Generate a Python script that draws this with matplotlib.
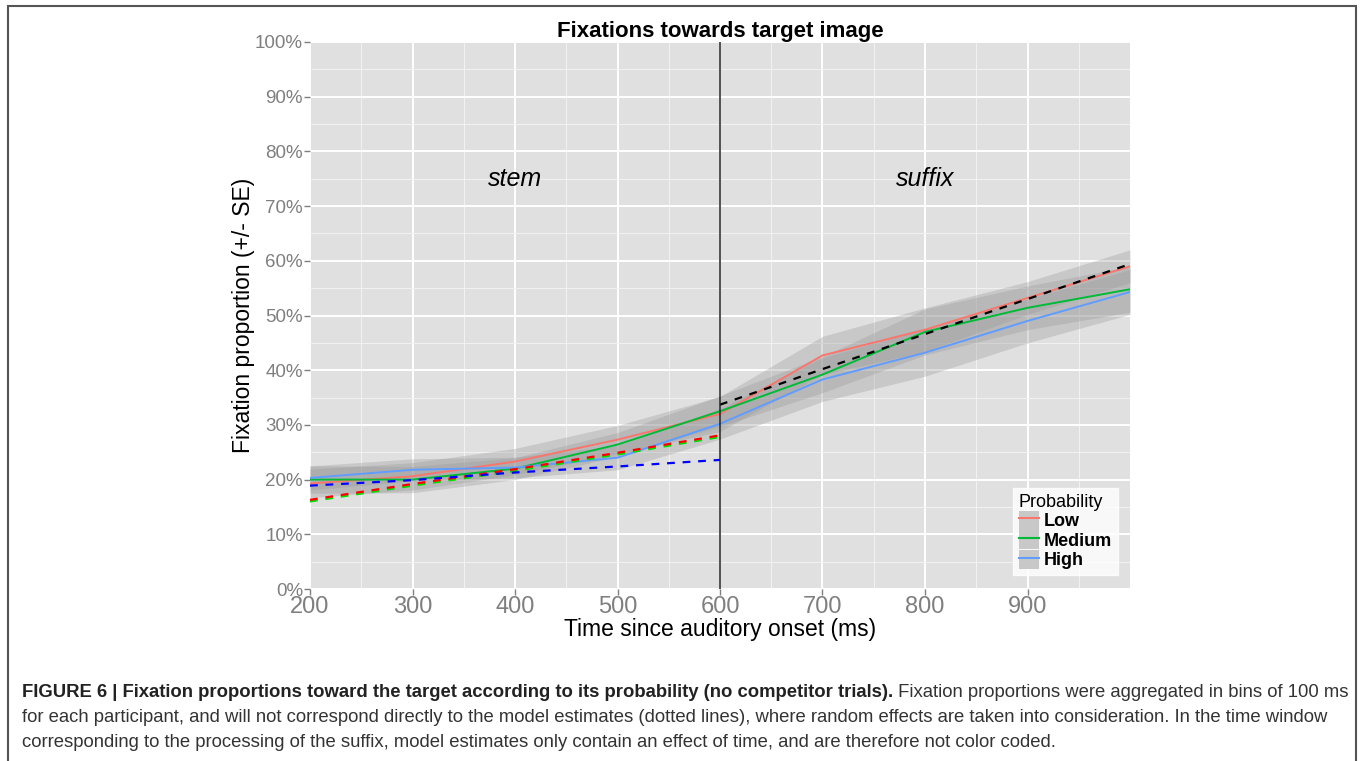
import numpy as np
import matplotlib
matplotlib.use("Agg")
import matplotlib.pyplot as plt
from matplotlib.lines import Line2D
from matplotlib.patches import Patch, Rectangle
from matplotlib.ticker import FuncFormatter, MultipleLocator

plt.rcParams["font.family"] = ["Liberation Sans", "DejaVu Sans"]

# time bins (ms)
time = [200, 300, 400, 500, 600, 700, 800, 900, 1000]

# observed fixation proportions (%) per probability group
low = [19.3, 20.6, 23.3, 27.3, 32.0, 42.7, 47.4, 53.2, 59.0]
medium = [20.0, 20.0, 22.0, 26.4, 32.5, 39.2, 47.0, 51.4, 54.8]
high = [20.3, 21.8, 22.2, 24.0, 30.2, 38.3, 43.2, 49.0, 54.3]

# standard errors (%)
low_se = [2.6, 2.5, 2.4, 2.6, 3.2, 3.5, 4.0, 3.0, 3.0]
medium_se = [2.5, 2.4, 2.0, 2.2, 2.8, 3.3, 4.2, 4.0, 4.2]
high_se = [2.2, 2.0, 1.9, 2.2, 2.8, 4.0, 4.3, 4.0, 4.1]

# model estimates (%)
stem_time = [200, 300, 400, 500, 600]
low_model = [16.3, 19.2, 21.9, 24.9, 28.1]
medium_model = [16.0, 18.9, 21.6, 24.6, 27.8]
high_model = [18.9, 19.9, 21.3, 22.4, 23.6]
suffix_time = [600, 700, 800, 900, 1000]
suffix_model = [33.7, 40.2, 46.6, 53.0, 59.4]

groups = ["Low", "Medium", "High"]
colors = ["#F8766D", "#00BA38", "#619CFF"]

fig = plt.figure(figsize=(13.6, 7.61), dpi=100)
fig.patches.append(Rectangle((8 / 1360, -0.05), 1348 / 1360, 1.05 - 6 / 761,
                             transform=fig.transFigure, fill=False,
                             edgecolor="#555555", linewidth=1.5))

ax = fig.add_axes([310 / 1360, 1 - 589 / 761, 820 / 1360, 547 / 761])
ax.set_facecolor("#E0E0E0")
for s in ax.spines.values():
    s.set_visible(False)

ax.set_xlim(200, 1000)
ax.set_ylim(0, 100)
ax.set_xticks(np.arange(200, 901, 100))
ax.xaxis.set_minor_locator(MultipleLocator(50))
ax.yaxis.set_major_locator(MultipleLocator(10))
ax.yaxis.set_minor_locator(MultipleLocator(5))
ax.yaxis.set_major_formatter(FuncFormatter(lambda v, p: f"{v:.0f}%"))
ax.grid(which="major", color="white", linewidth=1.4)
ax.grid(which="minor", color="#F2F2F2", linewidth=0.7)
ax.set_axisbelow(True)
ax.tick_params(which="major", length=4, width=1, color="#7F7F7F",
               labelcolor="#7F7F7F", pad=1)
ax.tick_params(which="minor", length=0)
ax.tick_params(axis="x", labelsize=17)
ax.tick_params(axis="y", labelsize=13.5)

series = [(low, low_se), (medium, medium_se), (high, high_se)]
for (vals, se) in series:
    v = np.array(vals)
    e = np.array(se)
    ax.fill_between(time, v - e, v + e, color="#999999", alpha=0.33,
                    linewidth=0, zorder=2)
for (vals, se), c in zip(series, colors):
    ax.plot(time, vals, color=c, linewidth=1.4, zorder=3)

dash = dict(linestyle=(0, (3.5, 3.5)), linewidth=1.6, zorder=4)
ax.plot(stem_time, medium_model, color="#00E000", **dash)
ax.plot(stem_time, low_model, color="#FF0000", **dash)
ax.plot(stem_time, high_model, color="#0000FF", **dash)
ax.plot(suffix_time, suffix_model, color="black", **dash)

ax.axvline(600, color="#222222", linewidth=1.1, zorder=5)

ax.text(400, 75, "stem", fontsize=18, style="italic", ha="center", va="center")
ax.text(800, 75, "suffix", fontsize=18, style="italic", ha="center", va="center")

ax.set_title("Fixations towards target image", fontsize=16, fontweight="bold", pad=3)
ax.set_xlabel("Time since auditory onset (ms)", fontsize=16.5, labelpad=0)
ax.set_ylabel("Fixation proportion (+/- SE)", fontsize=16.5, labelpad=0)

handles = [(Patch(facecolor="#C8C8C8", edgecolor="none"), Line2D([], [], color=c, linewidth=1.5))
           for c in colors]
leg = ax.legend(handles, groups, loc="lower right", bbox_to_anchor=(0.985, 0.026),
                borderaxespad=0, title="Probability",
                prop={"weight": "bold", "size": 13},
                title_fontproperties={"size": 13}, frameon=True, fancybox=False,
                handlelength=1.1, handleheight=1.25, handletextpad=0.3,
                labelspacing=0.0, borderpad=0.3)
leg.get_frame().set_edgecolor("white")
leg.get_frame().set_facecolor("white")
leg._legend_box.align = "left"

# caption below the chart
cap_size = 13.3
bold_txt = ("FIGURE 6 | Fixation proportions toward the target according to its "
            "probability (no competitor trials).")
lines = [
    " Fixation proportions were aggregated in bins of 100 ms",
    "for each participant, and will not correspond directly to the model estimates "
    "(dotted lines), where random effects are taken into consideration. In the time window",
    "corresponding to the processing of the suffix, model estimates only contain an "
    "effect of time, and are therefore not color coded.",
]
x0 = 22 / 1360
ys = [1 - 697 / 761, 1 - 722 / 761, 1 - 747 / 761]
t_bold = fig.text(x0, ys[0], bold_txt, fontsize=cap_size,
                  fontweight="bold", color="#222222", va="baseline")
fig.canvas.draw()
bb = t_bold.get_window_extent()
fig.text(bb.x1 / fig.bbox.width, ys[0], lines[0], fontsize=cap_size,
         color="#333333", va="baseline")
fig.text(x0, ys[1], lines[1], fontsize=cap_size, color="#333333", va="baseline")
fig.text(x0, ys[2], lines[2], fontsize=cap_size, color="#333333", va="baseline")

fig.savefig("out.png", dpi=100)
